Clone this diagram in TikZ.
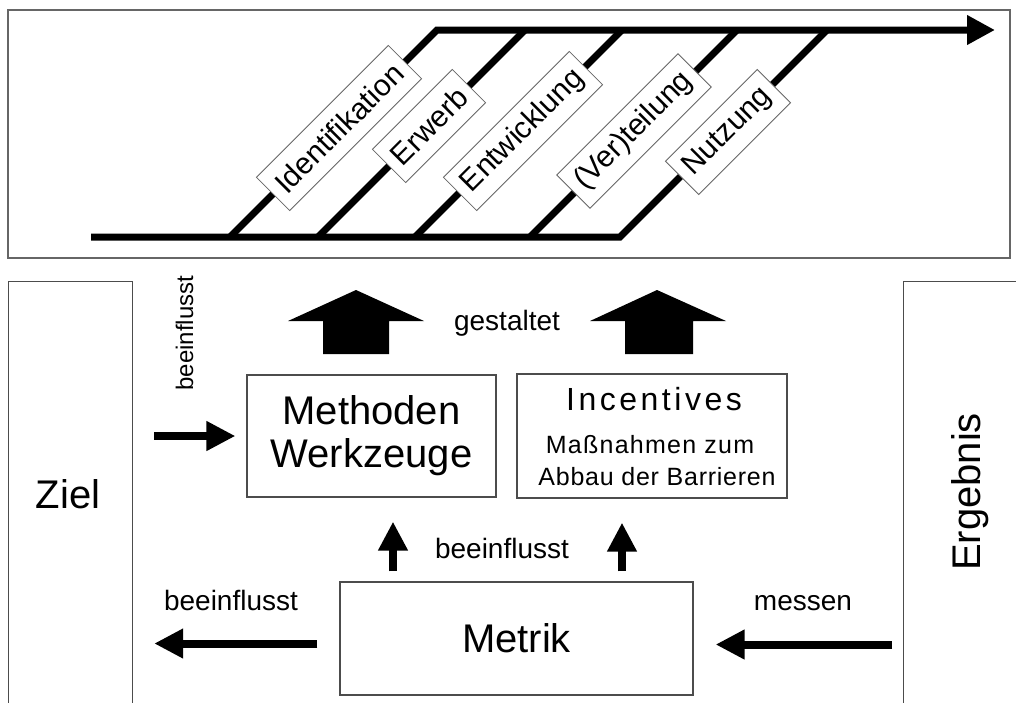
\documentclass[tikz,border=0pt]{standalone}
\usepackage{fontspec}
\setmainfont{Liberation Sans}
\usetikzlibrary{arrows.meta}
\begin{document}
\begin{tikzpicture}[x=1pt,y=-1pt,
  frame/.style={draw=black!60, line width=1.3pt},
  box/.style={draw=black!70, line width=1.2pt, rectangle, inner sep=0pt},
  bar/.style={line width=7pt},
  lbl/.style={draw=black!60, line width=0.8pt, fill=white, rotate=45, minimum height=47pt, inner xsep=9pt, inner ysep=0pt, font=\fontsize{30}{32}\selectfont},
  arr/.style={line width=8pt, -{Triangle[length=29pt,width=28pt]}},
  small/.style={font=\fontsize{28}{32}\selectfont, anchor=base, inner sep=0pt},
  big/.style={font=\fontsize{40}{43}\selectfont, inner sep=0pt}
]
\path[use as bounding box] (0,0) rectangle (1016,702);

% ---------- top panel ----------
\draw[frame] (8,10) rectangle (1010,258);
\coordinate (b1) at (230,237); \coordinate (t1) at (437,30);
\coordinate (b2) at (318,237); \coordinate (t2) at (525,30);
\coordinate (b3) at (415,237); \coordinate (t3) at (622,30);
\coordinate (b4) at (530,237); \coordinate (t4) at (737,30);
\coordinate (b5) at (620,237); \coordinate (t5) at (827,30);
\coordinate (bs) at (91,237);  \coordinate (te) at (995,30);
\draw[bar] (bs) -- (b5) -- (t5);
\draw[bar, -{Triangle[length=28pt,width=28pt]}] (b1) -- (t1) -- (te);
\draw[bar] (b2) -- (t2);
\draw[bar] (b3) -- (t3);
\draw[bar] (b4) -- (t4);
\node[lbl] (l1) at (339,128) {Identifikation};
\node[lbl] (l2) at (429,126) {Erwerb};
\node[lbl] (l3) at (523,131) {Entwicklung};
\node[lbl] (l4) at (634,131) {(Ver)teilung};
\node[lbl] (l5) at (728,132) {Nutzung};

% ---------- bottom panel ----------
\node[box, minimum width=124pt, minimum height=430pt, anchor=north west] (zielbox) at (8,281) {};
\node[box, minimum width=130pt, minimum height=430pt, anchor=north west] (ergbox) at (903,281) {};
\node[big, anchor=base] (ziel) at (68,508) {Ziel};
\node[big, anchor=base, rotate=90] (erg) at (980,492) {Ergebnis};

\node[box, minimum width=249pt, minimum height=122pt, align=center, font=\fontsize{40}{43}\selectfont] (meth) at (371.5,436) {Methoden\\Werkzeuge};
\node[box, minimum width=270pt, minimum height=124pt] (inc) at (652,436) {};
\node[anchor=base, inner sep=0pt, font=\fontsize{32}{34}\selectfont\addfontfeature{LetterSpace=11}] (inc1) at (654,410) {Incentives};
\node[anchor=base, inner sep=0pt, font=\fontsize{25}{28}\selectfont\addfontfeature{LetterSpace=5}] (inc2) at (650,453) {Maßnahmen zum};
\node[anchor=base, inner sep=0pt, font=\fontsize{25}{28}\selectfont\addfontfeature{LetterSpace=3}] (inc3) at (657,485) {Abbau der Barrieren};
\node[box, minimum width=353pt, minimum height=113pt, font=\fontsize{40}{43}\selectfont] (metrik) at (516.5,638.5) {Metrik};

% block arrows
\fill (356,290) -- (424,321) -- (389,321) -- (389,354) -- (323,354) -- (323,321) -- (288,321) -- cycle;
\fill (657,290) -- (726,321) -- (693,321) -- (693,354) -- (625,354) -- (625,321) -- (590,321) -- cycle;
\node[small] (gest) at (507,330) {gestaltet};

% connectors
\draw[arr] ([xshift=21pt]zielbox.east |- meth.west) -- ([xshift=-11pt]meth.west);
\node[small, rotate=90, font=\fontsize{24}{27}\selectfont] (bv) at (193,333) {beeinflusst};

\coordinate (ua) at (393,0);
\coordinate (ub) at (622,0);
\draw[arr] ([yshift=10pt]metrik.north -| ua) -- ([yshift=-24pt]meth.south -| ua);
\draw[arr] ([yshift=10pt]metrik.north -| ub) -- ([yshift=-24pt]inc.south -| ub);
\node[small] (bm) at (502,558) {beeinflusst};

\coordinate (ml) at ([xshift=-22pt,yshift=-5pt]metrik.west);
\draw[arr] (ml) -- ([xshift=21pt]zielbox.east |- ml);
\node[small] (bl) at (231,610) {beeinflusst};

\coordinate (mr) at ([xshift=22pt,yshift=-6pt]metrik.east);
\draw[arr] ([xshift=-11pt]ergbox.west |- mr) -- (mr);
\node[small] (ms) at (803,610) {messen};
\end{tikzpicture}
\end{document}
